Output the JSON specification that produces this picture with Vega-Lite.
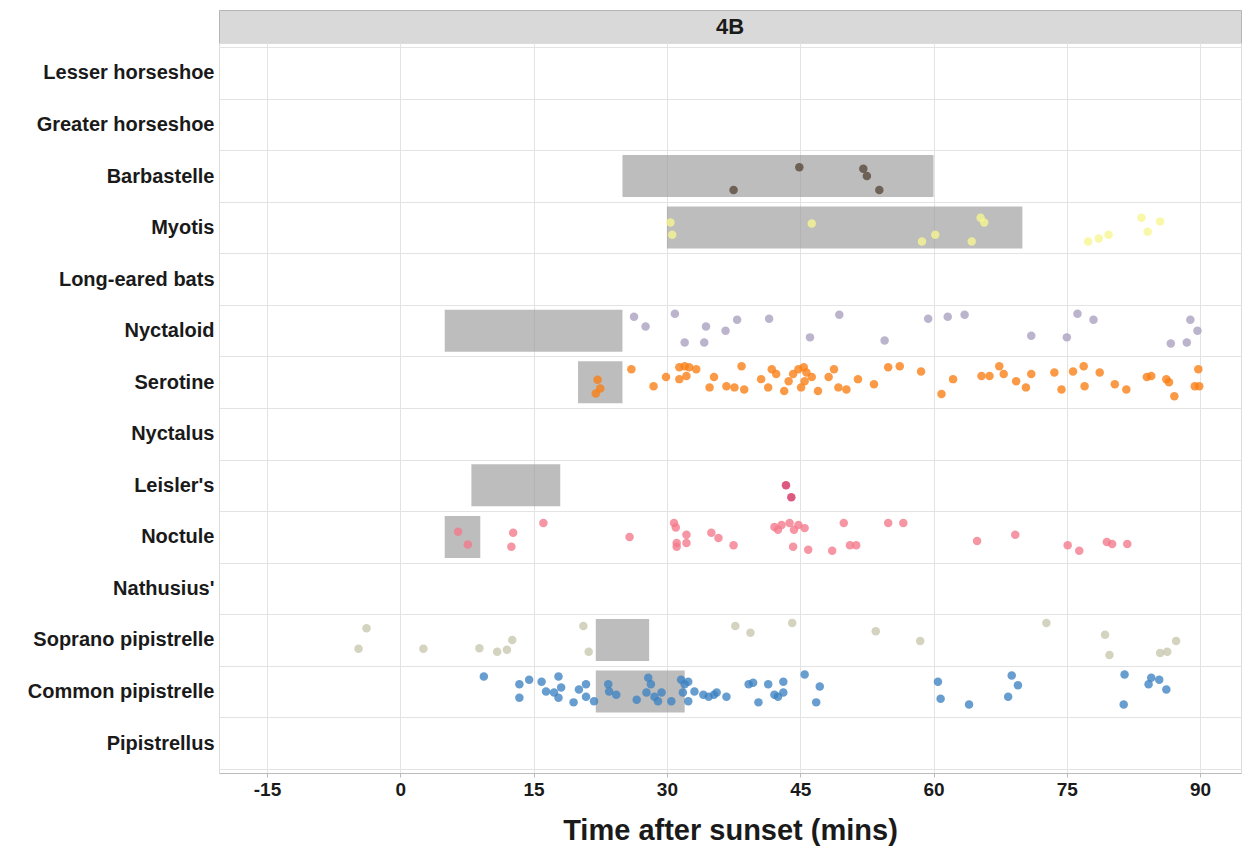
{
 "$schema": "https://vega.github.io/schema/vega-lite/v6.json",
 "padding": {"left": 13, "top": 9, "right": 3, "bottom": 0},
 "background": "white",
 "spacing": 0,
 "bounds": "flush",
 "config": {"font": "Liberation Sans", "view": {"stroke": null}, "concat": {"spacing": 0}},
 "datasets": {
  "strip": [{"panel": "4B"}],
  "bars": [
   {"species": "Barbastelle", "start": 25, "end": 60},
   {"species": "Myotis", "start": 30, "end": 70},
   {"species": "Nyctaloid", "start": 5, "end": 25},
   {"species": "Serotine", "start": 20, "end": 25},
   {"species": "Leisler's", "start": 8, "end": 18},
   {"species": "Noctule", "start": 5, "end": 9},
   {"species": "Soprano pipistrelle", "start": 22, "end": 28},
   {"species": "Common pipistrelle", "start": 22, "end": 32}
  ],
  "points": [
   {"species": "Barbastelle", "time": 44.9, "jitter": -0.17},
   {"species": "Barbastelle", "time": 52.1, "jitter": -0.14},
   {"species": "Barbastelle", "time": 52.5, "jitter": 0.0},
   {"species": "Barbastelle", "time": 37.5, "jitter": 0.27},
   {"species": "Barbastelle", "time": 53.9, "jitter": 0.27},
   {"species": "Myotis", "time": 30.4, "jitter": -0.1},
   {"species": "Myotis", "time": 30.6, "jitter": 0.14},
   {"species": "Myotis", "time": 46.3, "jitter": -0.08},
   {"species": "Myotis", "time": 65.3, "jitter": -0.19},
   {"species": "Myotis", "time": 65.7, "jitter": -0.1},
   {"species": "Myotis", "time": 60.2, "jitter": 0.14},
   {"species": "Myotis", "time": 58.7, "jitter": 0.27},
   {"species": "Myotis", "time": 64.3, "jitter": 0.27},
   {"species": "Myotis", "time": 77.4, "jitter": 0.27},
   {"species": "Myotis", "time": 78.6, "jitter": 0.21},
   {"species": "Myotis", "time": 79.7, "jitter": 0.14},
   {"species": "Myotis", "time": 83.4, "jitter": -0.19},
   {"species": "Myotis", "time": 84.1, "jitter": 0.08},
   {"species": "Myotis", "time": 85.5, "jitter": -0.12},
   {"species": "Nyctaloid", "time": 26.3, "jitter": -0.27},
   {"species": "Nyctaloid", "time": 27.6, "jitter": -0.08},
   {"species": "Nyctaloid", "time": 30.9, "jitter": -0.33},
   {"species": "Nyctaloid", "time": 32.0, "jitter": 0.23},
   {"species": "Nyctaloid", "time": 34.2, "jitter": 0.23},
   {"species": "Nyctaloid", "time": 34.4, "jitter": -0.08},
   {"species": "Nyctaloid", "time": 36.6, "jitter": 0.0},
   {"species": "Nyctaloid", "time": 37.9, "jitter": -0.21},
   {"species": "Nyctaloid", "time": 41.5, "jitter": -0.23},
   {"species": "Nyctaloid", "time": 46.1, "jitter": 0.13},
   {"species": "Nyctaloid", "time": 49.4, "jitter": -0.31},
   {"species": "Nyctaloid", "time": 54.5, "jitter": 0.19},
   {"species": "Nyctaloid", "time": 59.4, "jitter": -0.23},
   {"species": "Nyctaloid", "time": 61.6, "jitter": -0.27},
   {"species": "Nyctaloid", "time": 63.5, "jitter": -0.31},
   {"species": "Nyctaloid", "time": 71.0, "jitter": 0.1},
   {"species": "Nyctaloid", "time": 75.0, "jitter": 0.13},
   {"species": "Nyctaloid", "time": 76.2, "jitter": -0.33},
   {"species": "Nyctaloid", "time": 78.0, "jitter": -0.21},
   {"species": "Nyctaloid", "time": 86.7, "jitter": 0.25},
   {"species": "Nyctaloid", "time": 88.5, "jitter": 0.23},
   {"species": "Nyctaloid", "time": 88.9, "jitter": -0.21},
   {"species": "Nyctaloid", "time": 89.7, "jitter": 0.0},
   {"species": "Serotine", "time": 22.2, "jitter": -0.05},
   {"species": "Serotine", "time": 22.5, "jitter": 0.12},
   {"species": "Serotine", "time": 22.0, "jitter": 0.22},
   {"species": "Serotine", "time": 26.0, "jitter": -0.25},
   {"species": "Serotine", "time": 28.5, "jitter": 0.08},
   {"species": "Serotine", "time": 29.9, "jitter": -0.1},
   {"species": "Serotine", "time": 31.4, "jitter": -0.29},
   {"species": "Serotine", "time": 32.0, "jitter": -0.31},
   {"species": "Serotine", "time": 32.5, "jitter": -0.29},
   {"species": "Serotine", "time": 33.3, "jitter": -0.25},
   {"species": "Serotine", "time": 31.4, "jitter": -0.06},
   {"species": "Serotine", "time": 32.2, "jitter": -0.12},
   {"species": "Serotine", "time": 34.8, "jitter": 0.1},
   {"species": "Serotine", "time": 35.3, "jitter": -0.1},
   {"species": "Serotine", "time": 36.7, "jitter": 0.08},
   {"species": "Serotine", "time": 37.6, "jitter": 0.1},
   {"species": "Serotine", "time": 38.4, "jitter": -0.31},
   {"species": "Serotine", "time": 38.7, "jitter": 0.14},
   {"species": "Serotine", "time": 40.6, "jitter": -0.06},
   {"species": "Serotine", "time": 41.4, "jitter": 0.1},
   {"species": "Serotine", "time": 41.8, "jitter": -0.25},
   {"species": "Serotine", "time": 42.3, "jitter": -0.16},
   {"species": "Serotine", "time": 43.2, "jitter": 0.17},
   {"species": "Serotine", "time": 43.7, "jitter": -0.02},
   {"species": "Serotine", "time": 44.2, "jitter": -0.16},
   {"species": "Serotine", "time": 44.8, "jitter": -0.25},
   {"species": "Serotine", "time": 45.4, "jitter": -0.29},
   {"species": "Serotine", "time": 45.7, "jitter": -0.19},
   {"species": "Serotine", "time": 45.5, "jitter": -0.02},
   {"species": "Serotine", "time": 45.1, "jitter": 0.1},
   {"species": "Serotine", "time": 46.3, "jitter": -0.1},
   {"species": "Serotine", "time": 47.0, "jitter": 0.17},
   {"species": "Serotine", "time": 48.2, "jitter": -0.1},
   {"species": "Serotine", "time": 48.8, "jitter": -0.25},
   {"species": "Serotine", "time": 49.3, "jitter": 0.1},
   {"species": "Serotine", "time": 50.2, "jitter": 0.14},
   {"species": "Serotine", "time": 51.5, "jitter": -0.06},
   {"species": "Serotine", "time": 53.3, "jitter": 0.04},
   {"species": "Serotine", "time": 54.9, "jitter": -0.29},
   {"species": "Serotine", "time": 56.2, "jitter": -0.31},
   {"species": "Serotine", "time": 58.6, "jitter": -0.21},
   {"species": "Serotine", "time": 60.9, "jitter": 0.23},
   {"species": "Serotine", "time": 62.2, "jitter": -0.06},
   {"species": "Serotine", "time": 65.4, "jitter": -0.12},
   {"species": "Serotine", "time": 66.3, "jitter": -0.12},
   {"species": "Serotine", "time": 67.4, "jitter": -0.31},
   {"species": "Serotine", "time": 67.9, "jitter": -0.16},
   {"species": "Serotine", "time": 69.3, "jitter": -0.02},
   {"species": "Serotine", "time": 70.4, "jitter": 0.1},
   {"species": "Serotine", "time": 71.0, "jitter": -0.16},
   {"species": "Serotine", "time": 73.6, "jitter": -0.19},
   {"species": "Serotine", "time": 74.4, "jitter": 0.14},
   {"species": "Serotine", "time": 75.7, "jitter": -0.21},
   {"species": "Serotine", "time": 76.9, "jitter": -0.31},
   {"species": "Serotine", "time": 77.0, "jitter": 0.08},
   {"species": "Serotine", "time": 78.7, "jitter": -0.19},
   {"species": "Serotine", "time": 80.4, "jitter": 0.04},
   {"species": "Serotine", "time": 81.7, "jitter": 0.14},
   {"species": "Serotine", "time": 84.0, "jitter": -0.1},
   {"species": "Serotine", "time": 84.5, "jitter": -0.12},
   {"species": "Serotine", "time": 86.2, "jitter": -0.06},
   {"species": "Serotine", "time": 86.5, "jitter": 0.0},
   {"species": "Serotine", "time": 87.1, "jitter": 0.27},
   {"species": "Serotine", "time": 89.8, "jitter": -0.25},
   {"species": "Serotine", "time": 89.4, "jitter": 0.08},
   {"species": "Serotine", "time": 89.9, "jitter": 0.08},
   {"species": "Leisler's", "time": 43.4, "jitter": 0.0},
   {"species": "Leisler's", "time": 44.0, "jitter": 0.23},
   {"species": "Noctule", "time": 6.5, "jitter": -0.1},
   {"species": "Noctule", "time": 7.6, "jitter": 0.15},
   {"species": "Noctule", "time": 12.7, "jitter": -0.08},
   {"species": "Noctule", "time": 12.5, "jitter": 0.19},
   {"species": "Noctule", "time": 16.1, "jitter": -0.27},
   {"species": "Noctule", "time": 25.8, "jitter": 0.0},
   {"species": "Noctule", "time": 30.8, "jitter": -0.27},
   {"species": "Noctule", "time": 31.0, "jitter": -0.18},
   {"species": "Noctule", "time": 32.2, "jitter": -0.04},
   {"species": "Noctule", "time": 31.1, "jitter": 0.12},
   {"species": "Noctule", "time": 32.2, "jitter": 0.12},
   {"species": "Noctule", "time": 31.1, "jitter": 0.19},
   {"species": "Noctule", "time": 35.0, "jitter": -0.08},
   {"species": "Noctule", "time": 35.8, "jitter": 0.02},
   {"species": "Noctule", "time": 37.5, "jitter": 0.16},
   {"species": "Noctule", "time": 42.1, "jitter": -0.19},
   {"species": "Noctule", "time": 42.9, "jitter": -0.23},
   {"species": "Noctule", "time": 43.8, "jitter": -0.27},
   {"species": "Noctule", "time": 44.8, "jitter": -0.23},
   {"species": "Noctule", "time": 45.5, "jitter": -0.17},
   {"species": "Noctule", "time": 42.5, "jitter": -0.14},
   {"species": "Noctule", "time": 44.3, "jitter": -0.14},
   {"species": "Noctule", "time": 44.2, "jitter": 0.19},
   {"species": "Noctule", "time": 45.9, "jitter": 0.25},
   {"species": "Noctule", "time": 48.6, "jitter": 0.27},
   {"species": "Noctule", "time": 49.9, "jitter": -0.27},
   {"species": "Noctule", "time": 50.6, "jitter": 0.16},
   {"species": "Noctule", "time": 51.3, "jitter": 0.16},
   {"species": "Noctule", "time": 54.9, "jitter": -0.27},
   {"species": "Noctule", "time": 56.6, "jitter": -0.27},
   {"species": "Noctule", "time": 64.9, "jitter": 0.08},
   {"species": "Noctule", "time": 69.2, "jitter": -0.04},
   {"species": "Noctule", "time": 75.1, "jitter": 0.16},
   {"species": "Noctule", "time": 76.4, "jitter": 0.27},
   {"species": "Noctule", "time": 79.5, "jitter": 0.1},
   {"species": "Noctule", "time": 80.1, "jitter": 0.14},
   {"species": "Noctule", "time": 81.8, "jitter": 0.14},
   {"species": "Soprano pipistrelle", "time": -3.8, "jitter": -0.23},
   {"species": "Soprano pipistrelle", "time": -4.7, "jitter": 0.17},
   {"species": "Soprano pipistrelle", "time": 2.6, "jitter": 0.17},
   {"species": "Soprano pipistrelle", "time": 8.9, "jitter": 0.16},
   {"species": "Soprano pipistrelle", "time": 10.9, "jitter": 0.23},
   {"species": "Soprano pipistrelle", "time": 12.0, "jitter": 0.19},
   {"species": "Soprano pipistrelle", "time": 12.6, "jitter": 0.0},
   {"species": "Soprano pipistrelle", "time": 20.6, "jitter": -0.27},
   {"species": "Soprano pipistrelle", "time": 21.2, "jitter": 0.23},
   {"species": "Soprano pipistrelle", "time": 37.7, "jitter": -0.27},
   {"species": "Soprano pipistrelle", "time": 39.4, "jitter": -0.14},
   {"species": "Soprano pipistrelle", "time": 44.1, "jitter": -0.33},
   {"species": "Soprano pipistrelle", "time": 53.5, "jitter": -0.17},
   {"species": "Soprano pipistrelle", "time": 58.5, "jitter": 0.02},
   {"species": "Soprano pipistrelle", "time": 72.7, "jitter": -0.33},
   {"species": "Soprano pipistrelle", "time": 79.3, "jitter": -0.1},
   {"species": "Soprano pipistrelle", "time": 79.8, "jitter": 0.29},
   {"species": "Soprano pipistrelle", "time": 85.5, "jitter": 0.25},
   {"species": "Soprano pipistrelle", "time": 86.3, "jitter": 0.23},
   {"species": "Soprano pipistrelle", "time": 87.3, "jitter": 0.02},
   {"species": "Common pipistrelle", "time": 9.4, "jitter": -0.29},
   {"species": "Common pipistrelle", "time": 13.4, "jitter": -0.14},
   {"species": "Common pipistrelle", "time": 13.4, "jitter": 0.12},
   {"species": "Common pipistrelle", "time": 14.5, "jitter": -0.23},
   {"species": "Common pipistrelle", "time": 15.9, "jitter": -0.19},
   {"species": "Common pipistrelle", "time": 16.4, "jitter": 0.0},
   {"species": "Common pipistrelle", "time": 17.8, "jitter": -0.29},
   {"species": "Common pipistrelle", "time": 17.3, "jitter": 0.02},
   {"species": "Common pipistrelle", "time": 17.8, "jitter": 0.12},
   {"species": "Common pipistrelle", "time": 18.1, "jitter": -0.08},
   {"species": "Common pipistrelle", "time": 19.5, "jitter": 0.21},
   {"species": "Common pipistrelle", "time": 20.1, "jitter": -0.04},
   {"species": "Common pipistrelle", "time": 20.9, "jitter": -0.14},
   {"species": "Common pipistrelle", "time": 20.9, "jitter": 0.1},
   {"species": "Common pipistrelle", "time": 21.8, "jitter": 0.19},
   {"species": "Common pipistrelle", "time": 23.4, "jitter": -0.14},
   {"species": "Common pipistrelle", "time": 23.5, "jitter": 0.0},
   {"species": "Common pipistrelle", "time": 24.3, "jitter": 0.06},
   {"species": "Common pipistrelle", "time": 26.6, "jitter": 0.16},
   {"species": "Common pipistrelle", "time": 27.9, "jitter": -0.27},
   {"species": "Common pipistrelle", "time": 28.2, "jitter": -0.14},
   {"species": "Common pipistrelle", "time": 27.7, "jitter": 0.02},
   {"species": "Common pipistrelle", "time": 28.6, "jitter": 0.1},
   {"species": "Common pipistrelle", "time": 29.4, "jitter": 0.02},
   {"species": "Common pipistrelle", "time": 29.0, "jitter": 0.19},
   {"species": "Common pipistrelle", "time": 30.5, "jitter": 0.19},
   {"species": "Common pipistrelle", "time": 31.6, "jitter": -0.23},
   {"species": "Common pipistrelle", "time": 32.0, "jitter": -0.14},
   {"species": "Common pipistrelle", "time": 32.4, "jitter": -0.19},
   {"species": "Common pipistrelle", "time": 31.8, "jitter": 0.02},
   {"species": "Common pipistrelle", "time": 32.4, "jitter": 0.19},
   {"species": "Common pipistrelle", "time": 33.1, "jitter": 0.0},
   {"species": "Common pipistrelle", "time": 34.1, "jitter": 0.06},
   {"species": "Common pipistrelle", "time": 34.7, "jitter": 0.1},
   {"species": "Common pipistrelle", "time": 35.3, "jitter": 0.06},
   {"species": "Common pipistrelle", "time": 35.6, "jitter": 0.02},
   {"species": "Common pipistrelle", "time": 36.7, "jitter": 0.1},
   {"species": "Common pipistrelle", "time": 39.2, "jitter": -0.14},
   {"species": "Common pipistrelle", "time": 39.7, "jitter": -0.17},
   {"species": "Common pipistrelle", "time": 40.3, "jitter": 0.21},
   {"species": "Common pipistrelle", "time": 41.4, "jitter": -0.14},
   {"species": "Common pipistrelle", "time": 42.1, "jitter": 0.06},
   {"species": "Common pipistrelle", "time": 42.5, "jitter": 0.1},
   {"species": "Common pipistrelle", "time": 43.1, "jitter": 0.02},
   {"species": "Common pipistrelle", "time": 43.1, "jitter": -0.19},
   {"species": "Common pipistrelle", "time": 45.5, "jitter": -0.33},
   {"species": "Common pipistrelle", "time": 47.2, "jitter": -0.1},
   {"species": "Common pipistrelle", "time": 46.8, "jitter": 0.21},
   {"species": "Common pipistrelle", "time": 60.5, "jitter": -0.19},
   {"species": "Common pipistrelle", "time": 60.8, "jitter": 0.14},
   {"species": "Common pipistrelle", "time": 64.0, "jitter": 0.25},
   {"species": "Common pipistrelle", "time": 68.8, "jitter": -0.31},
   {"species": "Common pipistrelle", "time": 69.5, "jitter": -0.12},
   {"species": "Common pipistrelle", "time": 68.4, "jitter": 0.1},
   {"species": "Common pipistrelle", "time": 81.5, "jitter": -0.33},
   {"species": "Common pipistrelle", "time": 81.4, "jitter": 0.25},
   {"species": "Common pipistrelle", "time": 84.5, "jitter": -0.27},
   {"species": "Common pipistrelle", "time": 85.4, "jitter": -0.23},
   {"species": "Common pipistrelle", "time": 84.2, "jitter": -0.14},
   {"species": "Common pipistrelle", "time": 86.2, "jitter": -0.04}
  ]
 },
 "vconcat": [
  {
   "width": 1022,
   "height": 33,
   "data": {"name": "strip"},
   "view": {"fill": "#d9d9d9", "stroke": "#b5b5b5"},
   "mark": {"type": "text", "fontSize": 22, "fontWeight": "bold", "color": "#1a1a1a"},
   "encoding": {
    "text": {"field": "panel"},
    "y": {"field": "panel", "type": "nominal", "axis": {"labels": false, "ticks": false, "domain": false, "grid": false, "title": null, "minExtent": 205, "maxExtent": 205}}
   }
  },
  {
   "width": 1022,
   "height": 730,
   "view": {"stroke": "#dcdcdc"},
   "layer": [
    {
     "data": {"name": "bars"},
     "mark": {"type": "bar", "color": "#9a9a9a", "opacity": 0.65, "height": 42},
     "encoding": {
      "x": {"field": "start", "type": "quantitative", "scale": {"domain": [-20.4, 94.6], "nice": false, "zero": false},
       "axis": {"title": "Time after sunset (mins)", "values": [-15, 0, 15, 30, 45, 60, 75, 90], "labelExpr": "replace(datum.label, '\u2212', '-')", "labelFontSize": 19, "labelFontWeight": "bold", "labelColor": "#1a1a1a", "titleFontSize": 29, "titleFontWeight": "bold", "titleColor": "#1a1a1a", "titlePadding": 17, "tickColor": "#bbbbbb", "tickSize": 4, "domainColor": "#bbbbbb", "gridColor": "#e3e3e3", "labelPadding": 3}},
      "x2": {"field": "end"},
      "y": {"field": "species", "type": "nominal",
       "scale": {"domain": ["Lesser horseshoe", "Greater horseshoe", "Barbastelle", "Myotis", "Long-eared bats", "Nyctaloid", "Serotine", "Nyctalus", "Leisler's", "Noctule", "Nathusius'", "Soprano pipistrelle", "Common pipistrelle", "Pipistrellus"], "paddingInner": 0, "paddingOuter": 0.08},
       "axis": {"title": null, "labelFontSize": 20, "labelFontWeight": "bold", "labelColor": "#1a1a1a", "labelLimit": 0, "ticks": false, "domain": false, "labelPadding": 5, "tickBand": "extent", "grid": true, "gridColor": "#e3e3e3", "minExtent": 205, "maxExtent": 205}}
     }
    },
    {
     "data": {"name": "points"},
     "mark": {"type": "circle", "size": 72, "opacity": 0.78},
     "encoding": {
      "x": {"field": "time", "type": "quantitative"},
      "y": {"field": "species", "type": "nominal"},
      "yOffset": {"field": "jitter", "type": "quantitative", "scale": {"domain": [-0.5, 0.5]}},
      "color": {"field": "species", "type": "nominal", "legend": null,
       "scale": {"domain": ["Barbastelle", "Myotis", "Nyctaloid", "Serotine", "Leisler's", "Noctule", "Soprano pipistrelle", "Common pipistrelle"],
        "range": ["#574637", "#f6f690", "#a99dbf", "#fa7d12", "#d42a5c", "#f3788a", "#c6c6ad", "#3c82c2"]}}
     }
    }
   ]
  }
 ]
}
